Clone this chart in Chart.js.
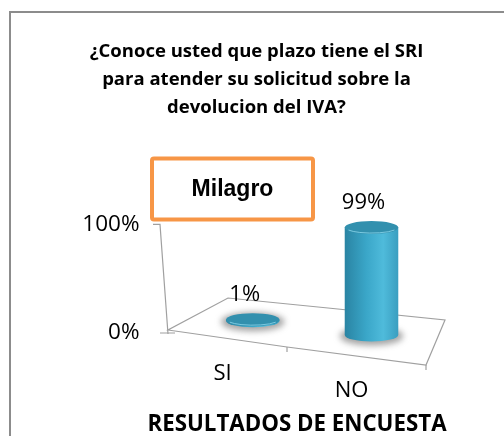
<!DOCTYPE html>
<html lang="es">
<head>
<meta charset="UTF-8" />
<title>Resultados de encuesta - Milagro</title>
<script src="https://cdn.jsdelivr.net/npm/chart.js"></script>
<style>
  html, body { margin: 0; padding: 0; background: #fff; }
  #marco { width: 504px; height: 436px; }
</style>
</head>
<body>
<div id="marco"><canvas id="grafico" width="504" height="436"></canvas></div>
<script>
// Datos de la encuesta
const titulo = [
  "¿Conoce usted que plazo tiene el SRI",
  "para atender su solicitud sobre la",
  "devolucion del IVA?"
];
const categorias = ["SI", "NO"];
const porcentajes = [1, 99];
const ticksY = [0, 100];
const tituloEjeX = "RESULTADOS DE ENCUESTA";
const recuadro = "Milagro";

const fuente = "'Open Sans', 'DejaVu Sans', sans-serif";

// piso en perspectiva, relativo al area del grafico
function esquinasPiso(a) {
  const L = a.left, R = a.right, B = a.bottom;
  return {
    frente: [[L - 25.5, B - 3], [L + 93.5, B + 14], [R - 5.5, B + 32]],
    fondo: [[L + 34.5, B - 35], [L + 134.5, B - 25], [R + 13.5, B - 13]]
  };
}
function lerp(p, q, t) {
  return [p[0] + (q[0] - p[0]) * t, p[1] + (q[1] - p[1]) * t];
}
function borde(pts, u) {
  return u <= 0.5 ? lerp(pts[0], pts[1], u * 2) : lerp(pts[1], pts[2], (u - 0.5) * 2);
}
function proyectar(piso, u, d) {
  return lerp(borde(piso.frente, u), borde(piso.fondo, u), d);
}

function cilindro(ctx, cx, baseY, topY, w) {
  const rx = w / 2, ry = 6.5;
  // sombra
  ctx.save();
  ctx.filter = "blur(3px)";
  ctx.fillStyle = "rgba(90,90,90,0.55)";
  ctx.beginPath();
  ctx.ellipse(cx, baseY + 1, rx + 5, ry + 3, 0, 0, Math.PI * 2);
  ctx.fill();
  ctx.restore();

  // cuerpo
  const g = ctx.createLinearGradient(cx - rx, 0, cx + rx, 0);
  g.addColorStop(0, "#2a84a3");
  g.addColorStop(0.4, "#3aa6c8");
  g.addColorStop(0.72, "#4fbbdb");
  g.addColorStop(1, "#3a9ec0");
  ctx.fillStyle = g;
  ctx.beginPath();
  ctx.moveTo(cx - rx, topY);
  ctx.lineTo(cx - rx, baseY);
  ctx.ellipse(cx, baseY, rx, ry, 0, Math.PI, 0, true);
  ctx.lineTo(cx + rx, topY);
  ctx.closePath();
  ctx.fill();

  // tapa
  ctx.fillStyle = "#3290ae";
  ctx.beginPath();
  ctx.ellipse(cx, topY, rx, ry, 0, 0, Math.PI * 2);
  ctx.fill();
  ctx.strokeStyle = "rgba(140,215,236,0.8)";
  ctx.lineWidth = 1;
  ctx.beginPath();
  ctx.ellipse(cx, topY, rx - 1, ry - 1, 0, 0.15 * Math.PI, 0.85 * Math.PI);
  ctx.stroke();
}

const decoracion = {
  id: "decoracion",
  beforeDraw(chart) {
    const ctx = chart.ctx;
    ctx.save();
    ctx.fillStyle = "#fff";
    ctx.fillRect(0, 0, chart.width, chart.height);
    // marco exterior
    ctx.strokeStyle = "#8c8c8c";
    ctx.lineWidth = 2;
    ctx.beginPath();
    ctx.moveTo(10, chart.height);
    ctx.lineTo(10, 12);
    ctx.lineTo(chart.width, 12);
    ctx.stroke();
    ctx.restore();
  },
  beforeDatasetsDraw(chart) {
    const ctx = chart.ctx;
    const a = chart.chartArea;
    const piso = esquinasPiso(a);
    const fl = piso.frente[0];
    ctx.save();
    ctx.strokeStyle = "#a0a0a0";
    ctx.lineWidth = 1.2;
    // piso
    ctx.beginPath();
    ctx.moveTo(...piso.frente[0]);
    ctx.lineTo(...piso.frente[1]);
    ctx.lineTo(...piso.frente[2]);
    ctx.lineTo(...piso.fondo[2]);
    ctx.lineTo(...piso.fondo[1]);
    ctx.lineTo(...piso.fondo[0]);
    ctx.closePath();
    ctx.stroke();
    // marcas del eje x
    [piso.frente[1], piso.frente[2]].forEach((p) => {
      ctx.beginPath();
      ctx.moveTo(p[0], p[1]);
      ctx.lineTo(p[0], p[1] + 5);
      ctx.stroke();
    });
    // eje y inclinado
    const yTop = chart.scales.y.getPixelForValue(ticksY[1]);
    ctx.beginPath();
    ctx.moveTo(fl[0], fl[1] + 4);
    ctx.lineTo(fl[0] - 8, yTop);
    ctx.lineTo(fl[0] - 15, yTop);
    ctx.moveTo(fl[0] - 8, fl[1] + 3);
    ctx.lineTo(fl[0] + 7, fl[1] + 3);
    ctx.stroke();
    ctx.restore();
  },
  afterDatasetsDraw(chart) {
    const ctx = chart.ctx;
    const a = chart.chartArea;
    const piso = esquinasPiso(a);
    const xs = chart.scales.x, ys = chart.scales.y;
    const meta = chart.getDatasetMeta(0);
    const base = ys.getPixelForValue(0);
    ctx.save();
    ctx.textAlign = "center";
    ctx.textBaseline = "middle";
    ctx.fillStyle = "#000";
    meta.data.forEach((bar, i) => {
      const u = (xs.getPixelForValue(i) - a.left) / (a.right - a.left);
      const p = proyectar(piso, u, 0.5);
      const alto = base - ys.getPixelForValue(porcentajes[i]);
      const topY = p[1] - alto;
      cilindro(ctx, p[0], p[1], topY, bar.width);

      ctx.fillStyle = "#000";
      ctx.font = "22px " + fuente;
      ctx.fillText(porcentajes[i] + "%", p[0] - 8, topY - 25);

      const f = borde(piso.frente, u);
      ctx.fillText(categorias[i], f[0] - 5, f[1] + 35);
    });
    // titulo del eje x, centrado bajo el borde frontal del piso
    const centro = piso.frente[1];
    ctx.font = "bold 22.3px " + fuente;
    ctx.fillText(tituloEjeX, centro[0] + 10, chart.height - 11);
    ctx.restore();
  },
  afterDraw(chart) {
    const ctx = chart.ctx;
    const a = chart.chartArea;
    const x = a.left - 41.5, y = a.top - 66, w = 161, h = 61;
    ctx.save();
    ctx.strokeStyle = "#f79646";
    ctx.lineWidth = 4;
    ctx.beginPath();
    ctx.roundRect(x, y, w, h, 2);
    ctx.stroke();
    ctx.fillStyle = "#000";
    ctx.font = "bold 23px 'Liberation Sans', Arial, sans-serif";
    ctx.textAlign = "center";
    ctx.textBaseline = "middle";
    ctx.fillText(recuadro, x + w / 2, y + h / 2 + 1);
    ctx.restore();
  }
};

const ctx = document.getElementById("grafico").getContext("2d");
new Chart(ctx, {
  type: "bar",
  data: {
    labels: categorias,
    datasets: [
      {
        label: recuadro,
        data: porcentajes,
        backgroundColor: "rgba(0,0,0,0)",
        borderWidth: 0,
        barPercentage: 0.9,
        categoryPercentage: 0.5
      }
    ]
  },
  options: {
    responsive: false,
    animation: false,
    events: [],
    layout: { padding: { left: 81.5, right: 72.5, top: 0, bottom: 103 } },
    plugins: {
      legend: { display: false },
      tooltip: { enabled: false },
      title: {
        display: true,
        text: titulo,
        color: "#000",
        font: { family: fuente, size: 18.5, weight: "bold", lineHeight: 1.54 },
        padding: { top: 37, bottom: 102 }
      }
    },
    scales: {
      x: {
        grid: { display: false, drawTicks: false },
        border: { display: false },
        ticks: { display: false },
        title: { display: false, text: tituloEjeX }
      },
      y: {
        min: ticksY[0],
        max: ticksY[1],
        grid: { display: false, drawTicks: false },
        border: { display: false },
        ticks: {
          stepSize: ticksY[1] - ticksY[0],
          color: "#000",
          padding: 54,
          font: { family: fuente, size: 22.5 },
          callback: (v) => v + "%"
        },
        afterFit: (s) => { s.width = 112; }
      }
    }
  },
  plugins: [decoracion]
});
</script>
</body>
</html>
